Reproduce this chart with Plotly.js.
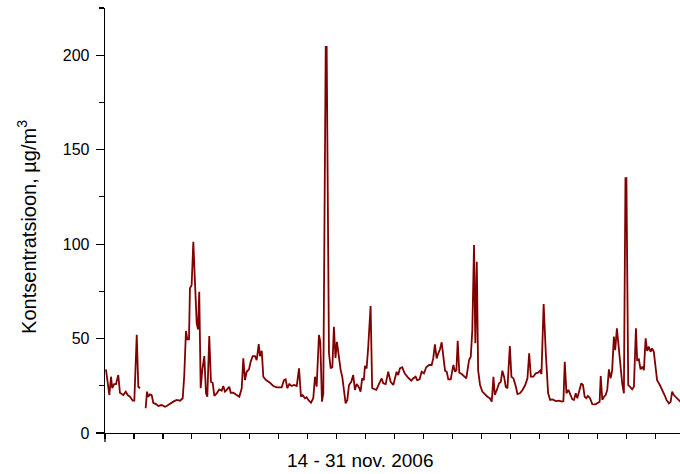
<!DOCTYPE html>
<html>
<head>
<meta charset="utf-8">
<script src="https://cdn.plot.ly/plotly-3.0.1.min.js"></script>
<style>html,body{margin:0;padding:0;background:#fff;}#chart{width:680px;height:474px;}</style>
</head>
<body>
<div id="chart"></div>
<script>
// Hours since 14 Nov 2006 00:00 (one axis tick per day)
var hours = [0.8,1.9,3.6,5.0,6.0,7.5,9.1,11.0,12.4,15.2,17.2,18.8,20.7,23.0,24.3,26.3,27.6,29.0,31.0,
33.7,34.8,35.9,37.3,38.7,40.0,42.3,44.2,47.0,49.7,51.1,53.9,56.6,59.4,62.2,64.4,65.7,67.1,68.2,69.6,
70.4,71.8,73.2,74.6,76.0,77.1,78.1,79.3,80.6,82.3,83.7,84.8,86.4,87.8,89.2,90.6,92.6,94.7,96.7,98.0,
99.4,100.9,103.0,104.2,106.3,109.1,111.3,113.3,114.6,116.0,117.4,119.3,120.7,122.4,124.3,125.7,127.4,
128.4,129.9,131.2,133.4,136.7,139.5,142.3,146.4,148.3,149.7,151.1,152.7,154.7,156.6,158.9,160.8,162.4,
163.8,165.7,167.1,168.5,170.7,172.6,174.0,175.4,177.3,178.4,179.8,180.9,182.9,183.7,185.6,187.0,188.4,
189.7,191.0,192.2,193.9,195.3,196.6,198.0,199.4,200.8,202.2,204.1,205.7,207.1,208.5,210.4,211.8,213.1,
214.5,215.4,216.8,218.1,220.1,221.4,224.8,227.0,229.3,230.6,232.6,234.7,236.7,238.9,240.3,241.7,243.0,
244.4,246.3,248.3,251.0,253.8,255.4,257.4,258.7,260.7,262.4,264.3,266.2,268.5,270.7,272.0,273.4,274.8,
276.2,277.6,279.0,280.4,281.8,283.2,284.5,286.5,287.8,288.7,290.1,291.2,292.3,293.6,295.6,297.5,299.4,
301.7,303.1,304.4,305.8,306.9,308.1,309.2,310.8,312.7,315.0,316.9,318.9,320.5,321.9,323.0,324.7,326.6,
328.0,329.3,330.7,332.1,333.5,335.5,336.8,338.5,340.5,341.8,343.8,346.0,348.2,350.1,351.5,352.9,355.0,
357.0,358.9,360.6,361.7,363.5,365.3,367.2,368.9,370.8,373.6,376.3,378.6,379.9,381.0,382.4,384.0,386.0,
387.3,388.7,390.1,391.4,392.8,394.7,396.1,397.5,398.8,400.2,401.9,403.8,406.6,408.5,409.9,410.8,412.1,
413.5,414.9,416.2,417.6,419.0,420.3,421.7,422.8,424.2,425.9,427.3,428.6,430.0,431.3,432.1,433.6,435.0,
436.9,438.3,440.0,441.0,442.4,443.8,445.2,446.6,448.0,449.3,450.7,452.1,453.4,454.8,456.2,457.5,459.8,
461.7,463.7,465.3,467.3,468.7,470.0,471.4,472.8,474.7,477.0];

// Concentration, µg/m3 (null = missing data)
var conc = [33.7,28.0,20.1,29.8,23.7,25.9,25.9,30.7,21.3,20.1,21.9,20.1,19.2,17.1,17.1,52.0,24.5,23.7,null,
13.1,21.9,19.2,20.5,20.1,16.0,15.3,14.3,14.8,13.9,14.3,15.7,16.6,17.5,17.1,18.4,30.7,54.0,49.6,49.6,
76.6,78.3,101.2,79.2,58.0,54.9,74.8,23.7,33.3,40.7,21.0,19.2,51.3,27.1,26.6,19.6,21.0,23.1,22.4,24.9,
21.9,22.8,24.5,21.3,21.3,20.1,19.2,23.7,39.5,28.0,32.4,33.7,37.7,40.7,40.7,38.6,47.1,
40.7,43.5,29.8,28.0,26.6,24.9,24.2,24.2,28.0,28.4,23.7,25.9,24.9,25.4,24.9,34.2,19.2,
20.1,18.4,18.9,17.5,16.0,18.4,29.8,24.5,51.9,48.3,16.6,21.0,204.4,204.4,42.2,34.2,34.9,
56.2,39.7,48.3,38.6,33.3,29.8,22.8,15.7,17.5,25.4,27.1,30.7,22.8,25.9,24.2,21.9,28.9,
28.0,35.5,34.2,45.2,67.2,23.7,22.8,25.9,28.9,26.3,25.9,32.4,27.1,25.4,29.1,32.4,30.7,
34.2,34.8,31.6,29.5,27.7,28.9,29.8,28.0,28.4,32.4,31.6,34.8,36.0,36.0,39.5,46.9,39.5,
42.2,44.3,48.0,38.6,33.0,32.4,28.4,28.4,33.3,36.0,32.4,33.3,48.8,31.9,31.2,30.2,28.9,
38.6,40.4,54.5,99.5,47.5,90.6,33.3,25.4,21.9,20.1,19.2,18.4,16.6,29.8,20.1,22.8,26.3,
27.1,33.0,29.8,24.5,23.7,46.0,29.8,28.9,24.5,20.6,21.0,22.8,25.4,28.9,42.2,29.8,29.8,
31.6,31.9,33.0,31.2,68.3,42.2,21.0,17.5,17.8,16.9,17.1,16.6,16.9,37.7,21.0,22.8,20.1,
17.8,17.5,21.0,18.4,21.9,26.3,25.4,19.2,18.4,19.6,18.4,15.3,15.2,16.0,16.6,30.2,17.5,
19.2,20.1,22.8,33.7,28.9,33.3,51.0,43.9,55.4,43.9,36.9,26.3,21.0,134.9,134.9,25.4,24.5,
23.1,24.5,55.4,38.6,39.0,33.7,35.1,33.3,50.1,43.5,45.7,43.0,44.8,43.0,33.3,28.0,25.4,
23.1,20.1,17.5,15.7,16.4,21.9,20.1,19.2,17.5,16.5];

var xTitle = '14 - 31 nov. 2006';
var yTitle = 'Kontsentratsioon, µg/m<sup>3</sup>';
var yTicks = [0, 50, 100, 150, 200];

var trace = {
  x: hours, y: conc, type: 'scatter', mode: 'lines',
  line: {color: '#800000', width: 1.8},
  connectgaps: false, hoverinfo: 'skip'
};

var font = 'Arial, "Liberation Sans", sans-serif';
var layout = {
  width: 680, height: 474,
  margin: {l: 105, r: 0, t: 8, b: 41, pad: 0},
  paper_bgcolor: '#ffffff', plot_bgcolor: '#ffffff',
  showlegend: false,
  font: {family: font, color: '#000000', size: 16},
  xaxis: {
    range: [0, 476.5], showgrid: false, zeroline: false,
    showline: true, linecolor: '#000', linewidth: 1.3,
    ticks: 'outside', ticklen: 5, tickwidth: 1.2, tickcolor: '#000',
    tick0: 0, dtick: 24, showticklabels: false, fixedrange: true
  },
  yaxis: {
    range: [0, 225], showgrid: false, zeroline: false,
    showline: true, linecolor: '#000', linewidth: 1.3,
    ticks: 'outside', ticklen: 8, tickwidth: 1.2, tickcolor: '#000',
    tickmode: 'array', tickvals: yTicks, ticktext: yTicks.map(String),
    tickfont: {family: font, size: 16, color: '#000'},
    ticklabelstandoff: 3,
    minor: {dtick: 25, tick0: 0, ticks: 'outside', ticklen: 5, tickwidth: 1.2, tickcolor: '#000'},
    fixedrange: true
  },
  annotations: [
    {text: xTitle, xref: 'paper', yref: 'paper', x: 0.4443, y: 0, yshift: -15,
     xanchor: 'center', yanchor: 'top', showarrow: false,
     font: {family: font, size: 19, color: '#000'}},
    {text: yTitle, xref: 'paper', yref: 'paper', x: 0, xshift: -78, y: 0.485,
     xanchor: 'center', yanchor: 'middle', textangle: -90, showarrow: false,
     font: {family: font, size: 20, color: '#000'}}
  ],
  shapes: [
    {type: 'line', xref: 'paper', yref: 'paper', x0: 0, x1: 0, y0: 0, y1: -9/425,
     line: {color: '#000', width: 1.3}}
  ]
};

Plotly.newPlot('chart', [trace], layout, {displayModeBar: false, staticPlot: true});
</script>
</body>
</html>
